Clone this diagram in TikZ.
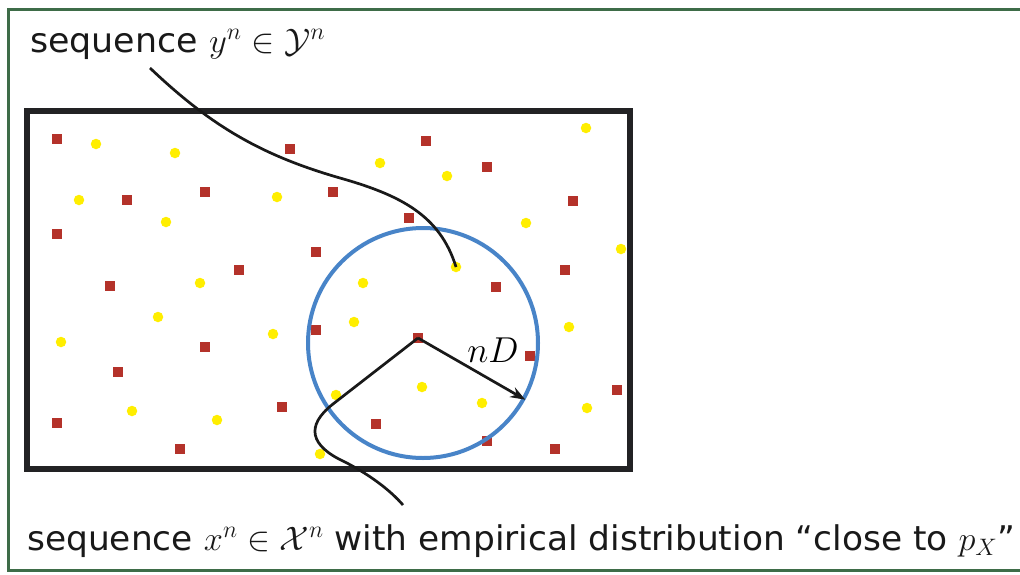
\RequirePackage{fix-cm}
\documentclass[tikz,border=0pt]{standalone}
\usepackage{fontspec}
\setmainfont{DejaVu Sans}
\usepackage{graphicx}
\usetikzlibrary{arrows.meta}
\definecolor{frameg}{RGB}{62,108,72}
\definecolor{sqred}{RGB}{180,50,42}
\definecolor{dotyel}{RGB}{255,238,0}
\definecolor{ballblue}{RGB}{72,132,200}
\definecolor{boxblack}{RGB}{34,34,36}
\tikzset{
  rsq/.style={rectangle, fill=sqred, minimum size=10pt, inner sep=0pt},
  ydot/.style={circle, fill=dotyel, minimum size=10.5pt, inner sep=0pt},
  lbl/.style={anchor=base west, inner sep=0pt, text=black!90, font=\fontsize{34}{40}\selectfont},
  wire/.style={line width=2.7pt, black!90},
}
\begin{document}
\begin{tikzpicture}[x=1pt,y=-1pt]
\useasboundingbox (0,0) rectangle (1020,574);
\fill[white] (0,0) rectangle (1020,574);
% outer green frame
\draw[frameg, line width=3pt] (8,9) rectangle (1030,570);
% black box
\draw[boxblack, line width=6pt] (27,111) rectangle (630,469);
% red squares
\foreach \px/\py [count=\i] in {57/139,290/149,426/141,487/167,205/192,333/192,127/200,573/201,409/218,57/234,316/252,239/270,565/270,110/286,496/287,316/330,205/347,530/356,118/372,617/390,282/407,376/424,57/423,487/441,180/449,555/449}
  \node[rsq] (r\i) at (\px,\py) {};
% yellow dots
\foreach \px/\py [count=\i] in {96/144,175/153,586/128,380/163,447/176,79/200,277/197,166/222,526/223,621/249,200/283,363/283,158/317,354/322,569/327,61/342,273/334,336/395,422/387,482/403,587/408,132/411,217/420,320/454}
  \node[ydot] (y\i) at (\px,\py) {};
\node[ydot] (yend) at (456,267) {};
% centre square
\node[rsq] (c) at (418,338) {};
% ball
\node[circle, draw=ballblue, line width=4pt, minimum size=230pt, inner sep=0pt] (ball) at (423,343) {};
% labels
\node[lbl] (ylab) at (30,52) {\resizebox{295pt}{\height}{sequence $y^n\in\mathcal{Y}^n$}};
\node[lbl] (xlab) at (27,550) {\resizebox{988pt}{\height}{sequence $x^n\in\mathcal{X}^n$ with empirical distribution “close to $p_X$”}};
\node[inner sep=0pt, font=\fontsize{36}{42}\selectfont] (nd) at (493,350) {$nD$};
\coordinate (ystart) at (150,68);
\coordinate (xend) at (403,505);
% connectors
\draw[wire] (ystart) .. controls (210,125) and (260,155) .. (340,178)
  .. controls (400,195) and (440,215) .. (yend.center);
\draw[wire, line join=round] (c.center) -- (333,404) .. controls (305,426) and (310,446) .. (345,462)
  .. controls (370,475) and (390,490) .. (xend);
\draw[wire, -{Stealth[length=15pt,width=11pt]}] (c.center) -- (ball.-29.5);
\end{tikzpicture}
\end{document}
